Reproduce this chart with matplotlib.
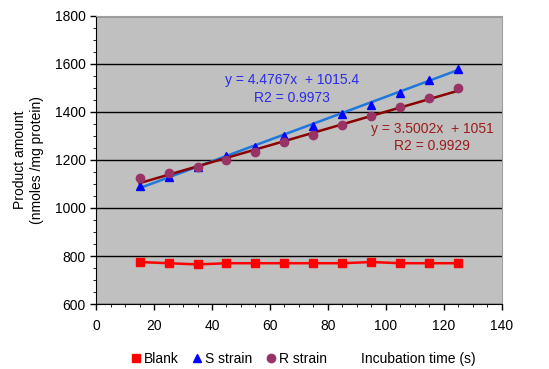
import matplotlib.pyplot as plt
import numpy as np
from matplotlib.ticker import MultipleLocator
from matplotlib.lines import Line2D

plt.rcParams['font.family'] = ['Liberation Sans', 'DejaVu Sans']

# incubation time (s)
time_s = [15, 25, 35, 45, 55, 65, 75, 85, 95, 105, 115, 125]
blank = [775, 770, 765, 770, 770, 770, 770, 770, 775, 770, 770, 770]
s_strain = [1090, 1130, 1170, 1215, 1255, 1300, 1340, 1390, 1430, 1480, 1535, 1580]
r_strain = [1125, 1145, 1170, 1200, 1235, 1275, 1305, 1345, 1385, 1420, 1460, 1500]

# trendline coefficients as printed on the chart
s_fit = (4.4767, 1015.4)
r_fit = (3.5002, 1051)
s_r2 = 0.9973
r_r2 = 0.9929

fig = plt.figure(figsize=(5.49, 3.69), dpi=100)
ax = fig.add_axes([0.175, 0.176, 0.739, 0.781])
ax.set_facecolor('#C0C0C0')

t = np.array(time_s)
ax.plot(t, s_fit[0] * t + s_fit[1], color='#1E78DC', lw=1.8, zorder=2)
ax.plot(t, r_fit[0] * t + r_fit[1], color='#8B0000', lw=1.8, zorder=2)

ax.plot(time_s, blank, color='#FF0000', lw=1.8, marker='s', ms=6, zorder=3)
ax.plot(time_s, s_strain, ls='none', color='#0000FF', marker='^', ms=6, zorder=3)
ax.plot(time_s, r_strain, ls='none', color='#993366', marker='o', ms=6, zorder=3)

ax.text(67.5, 1495, f'y = {s_fit[0]}x  + {s_fit[1]}\nR2 = {s_r2}',
        color='#2A2AE8', fontsize=10, ha='center', va='center', linespacing=1.3)
ax.text(116, 1293, f'y = {r_fit[0]}x  + {r_fit[1]}\nR2 = {r_r2}',
        color='#9B1C1C', fontsize=10, ha='center', va='center', linespacing=1.3)

ax.set_xlim(0, 140)
ax.set_ylim(600, 1800)
ax.xaxis.set_major_locator(MultipleLocator(20))
ax.xaxis.set_minor_locator(MultipleLocator(5))
ax.yaxis.set_major_locator(MultipleLocator(200))
ax.yaxis.set_minor_locator(MultipleLocator(50))
ax.grid(axis='y', which='major', color='black', lw=1)
ax.set_axisbelow(True)
ax.tick_params(labelsize=10, direction='out', length=4, width=1)
ax.tick_params(axis='x', pad=7)
ax.tick_params(which='minor', length=2)
for s in ['top', 'right']:
    ax.spines[s].set_color('#A0A0A0')
for s in ['left', 'bottom']:
    ax.spines[s].set_color('black')

ax.set_ylabel('Product amount\n(nmoles /mg protein)', fontsize=10, labelpad=8)

handles = [
    Line2D([], [], ls='none', marker='s', ms=6, color='#FF0000'),
    Line2D([], [], ls='none', marker='^', ms=6, color='#0000FF'),
    Line2D([], [], ls='none', marker='o', ms=6, color='#993366'),
]
fig.legend(handles, ['Blank', 'S strain', 'R strain'], loc='center',
           bbox_to_anchor=(0.415, 0.027), ncol=3, frameon=False, fontsize=10,
           handletextpad=0.1, columnspacing=0.8, handlelength=1.0)
fig.text(0.762, 0.027, 'Incubation time (s)', fontsize=10, ha='center', va='center')

fig.savefig('out.png', dpi=100)
